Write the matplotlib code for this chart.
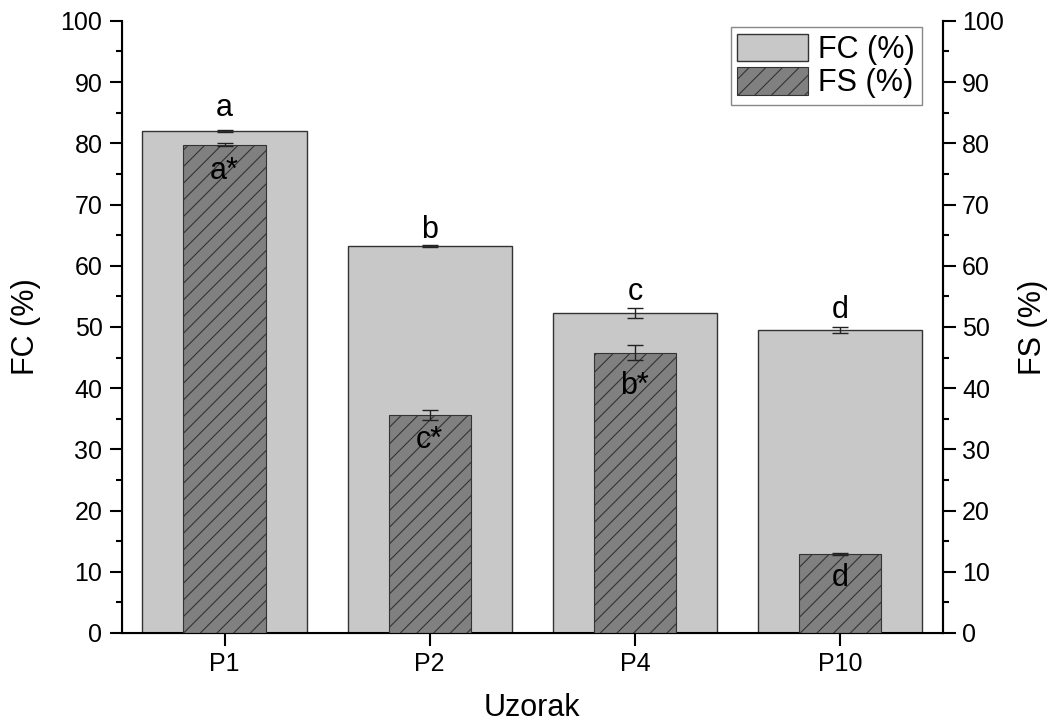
import matplotlib
matplotlib.use("Agg")
import matplotlib.pyplot as plt
import numpy as np
from matplotlib.ticker import MultipleLocator

plt.rcParams['font.family'] = ['Liberation Sans', 'DejaVu Sans']
plt.rcParams['hatch.linewidth'] = 0.8

samples = ["P1", "P2", "P4", "P10"]
fc = [82.0, 63.2, 52.3, 49.5]
fc_err = [0.1, 0.2, 0.8, 0.5]
fs = [79.8, 35.6, 45.8, 12.9]
fs_err = [0.3, 0.8, 1.2, 0.1]
fc_letters = ["a", "b", "c", "d"]
fc_letter_y = [84.5, 64.5, 54.4, 51.5]
fs_letters = ["a*", "c*", "b*", "d"]
fs_letter_y = [74.1, 30.3, 39.1, 7.7]

fig = plt.figure(figsize=(10.51, 7.27), dpi=100)
ax = fig.add_axes([0.116, 0.1293, 0.781, 0.842])
x = np.arange(1, len(samples) + 1)

ax.bar(x, fc, width=0.8, color='#c8c8c8', edgecolor='#333333', linewidth=1.0,
       label='FC (%)', zorder=2)
ax.errorbar(x, fc, yerr=fc_err, fmt='none', ecolor='#222222', elinewidth=1.0,
            capsize=6, capthick=1.0, zorder=3)
ax.bar(x, fs, width=0.4, color='#808080', edgecolor='#333333', linewidth=0.8,
       hatch='//', label='FS (%)', zorder=4)
ax.errorbar(x, fs, yerr=fs_err, fmt='none', ecolor='#222222', elinewidth=1.0,
            capsize=6, capthick=1.0, zorder=5)

for xi, t, yv in zip(x, fc_letters, fc_letter_y):
    ax.text(xi, yv, t, ha='center', va='baseline', fontsize=22, zorder=6)
for xi, t, yv in zip(x, fs_letters, fs_letter_y):
    ax.text(xi, yv, t, ha='center', va='baseline', fontsize=22, zorder=6)

ax.set_xlim(0.5, 4.5)
ax.set_ylim(0, 100)
ax.set_xticks(x)
ax.set_xticklabels(samples)
ax.yaxis.set_major_locator(MultipleLocator(10))
ax.yaxis.set_minor_locator(MultipleLocator(5))
ax.spines['top'].set_visible(False)
for s in ['left', 'right', 'bottom']:
    ax.spines[s].set_linewidth(1.5)
ax.tick_params(axis='both', which='major', direction='out', length=9, width=1.5,
               labelsize=18, pad=5)
ax.tick_params(axis='y', which='minor', direction='out', length=4.5, width=1.5)
ax.set_xlabel('Uzorak', fontsize=22, labelpad=12)
ax.set_ylabel('FC (%)', fontsize=22, labelpad=14)

ax2 = ax.twinx()
ax2.set_ylim(0, 100)
ax2.yaxis.set_major_locator(MultipleLocator(10))
ax2.yaxis.set_minor_locator(MultipleLocator(5))
ax2.spines['top'].set_visible(False)
ax2.spines['right'].set_linewidth(1.5)
ax2.tick_params(axis='y', which='major', direction='out', length=9, width=1.5,
                labelsize=18, pad=5)
ax2.tick_params(axis='y', which='minor', direction='out', length=4.5, width=1.5)
ax2.set_ylabel('FS (%)', fontsize=22, labelpad=10)

leg = ax.legend(loc='upper right', bbox_to_anchor=(0.9744, 0.990), fontsize=22,
                fancybox=False, edgecolor='#888888', framealpha=1,
                handlelength=2.3, handleheight=1.0, borderpad=0.22,
                labelspacing=0.08, handletextpad=0.35, borderaxespad=0.0)
leg.get_frame().set_linewidth(1.0)

fig.savefig('out.png', dpi=100)
